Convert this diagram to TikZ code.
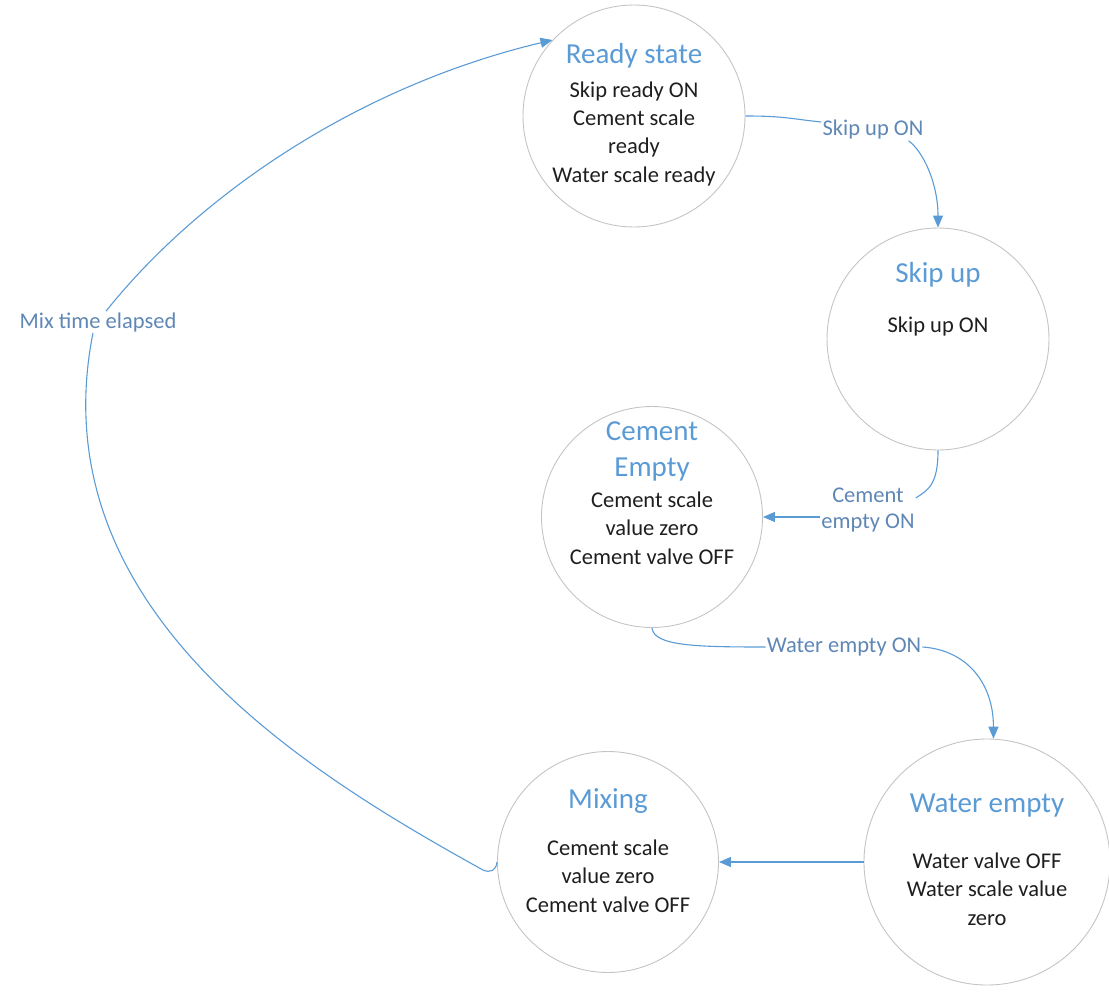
\documentclass[tikz,border=0pt]{standalone}
\usepackage{fontspec}
\setmainfont{Carlito}
\usetikzlibrary{arrows.meta}
\definecolor{conncol}{HTML}{5B9BD5}
\definecolor{labcol}{HTML}{5F87B5}
\definecolor{titlecol}{HTML}{5B9BD5}
\definecolor{circcol}{HTML}{C4C4C4}
\definecolor{bodycol}{HTML}{1E1E1E}
\begin{document}
\begin{tikzpicture}[x=1pt,y=-1pt,
  statecircle/.style={circle,draw=circcol,line width=0.9pt,minimum size=#1,inner sep=0pt},
  titletext/.style={font=\fontsize{29}{36}\selectfont,text=titlecol,align=center,anchor=base,inner sep=0pt},
  bodytext/.style={font=\fontsize{22.5}{28.2}\selectfont,text=bodycol,align=center,anchor=base,inner sep=0pt},
  edgelabel/.style={font=\fontsize{22.5}{26}\selectfont,text=labcol,align=center,inner sep=1pt},
  conn/.style={draw=conncol,line width=1.1pt},
  arr/.style={-{Triangle[length=12pt,width=10pt]}}]
\useasboundingbox (0,0) rectangle (1109,993);

% states
\node[statecircle=222pt] (ready) at (634,116) {};
\node[statecircle=222pt] (skip) at (938,339) {};
\node[statecircle=221pt] (cement) at (652,517) {};
\node[statecircle=221pt] (mixing) at (608,862) {};
\node[statecircle=246pt] (water) at (987,862) {};

% state texts (anchor=base is the baseline of the last line)
\node[titletext] (readyT) at (634,63) {Ready state};
\node[bodytext] (readyB) at (634,182) {Skip ready ON\\Cement scale\\ready\\Water scale ready};
\node[titletext] (skipT) at (938,282) {Skip up};
\node[bodytext] (skipB) at (938,332) {Skip up ON};
\node[titletext] (cementT) at (652,476) {Cement\\Empty};
\node[bodytext] (cementB) at (652,564) {Cement scale\\value zero\\Cement valve OFF};
\node[titletext] (mixingT) at (608,808) {Mixing};
\node[bodytext] (mixingB) at (608,912) {Cement scale\\value zero\\Cement valve OFF};
\node[titletext] (waterT) at (987,812) {Water empty};
\node[bodytext] (waterB) at (987,925) {Water valve OFF\\Water scale value\\zero};

% edge labels
\node[edgelabel] (l1) at (873,130) {Skip up ON};
\node[edgelabel] (l2) at (868,510) {Cement\\empty ON};
\node[edgelabel] (l3) at (844,647) {Water empty ON};
\node[edgelabel] (l5) at (98,322) {Mix time elapsed};

% connectors
\draw[conn] (ready.east) .. controls +(40,0) and +(-30,-3) .. ([yshift=8pt]l1.west);
\draw[conn,arr] ([xshift=-16pt]l1.south east) .. controls +(14,10) and +(0,-45) .. (skip.north);

\draw[conn] (skip.south) .. controls +(0,35) and +(12,-8) .. ([yshift=12pt]l2.east);
\draw[conn,arr] (l2.west |- cement.east) -- (cement.east);

\draw[conn] (cement.south) .. controls +(2,18) and +(-70,0) .. (l3.west);
\draw[conn,arr] (l3.east) .. controls +(45,3) and +(0,-55) .. (water.87);

\draw[conn,arr] (water.west) -- (mixing.east);

\draw[conn] (mixing.west) .. controls (496,871) and (490,873) .. (483,870)
  .. controls (308,773) and (38,610) .. ([xshift=-5pt]l5.south);
\draw[conn,arr] ([xshift=8pt]l5.north) .. controls (197,197) and (355,87) .. (ready.137);
\end{tikzpicture}
\end{document}
